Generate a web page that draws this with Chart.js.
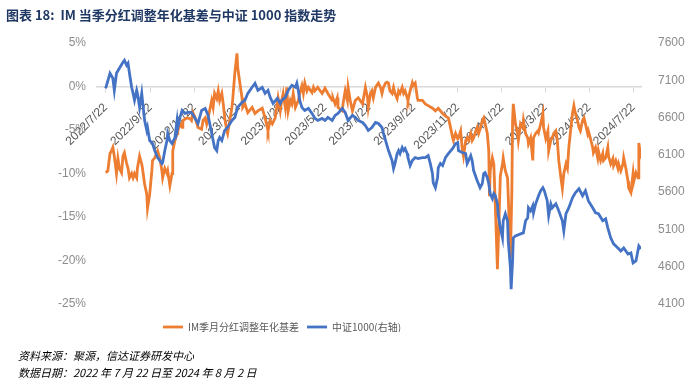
<!DOCTYPE html>
<html>
<head>
<meta charset="utf-8">
<script src="https://cdn.jsdelivr.net/npm/chart.js@4.4.1/dist/chart.umd.min.js"></script>
<style>
  body { margin: 0; background: #fff; }
  #wrap { position: relative; width: 700px; height: 384px; }
  #title { position: absolute; left: 6px; top: 5px; font: bold 13px "Noto Sans CJK SC", sans-serif; color: #1f3864; white-space: pre; }
  .note { position: absolute; left: 18px; font: italic 11px "Noto Sans CJK SC", sans-serif; color: #000; white-space: pre; }
</style>
</head>
<body>
<div id="wrap">
  <canvas id="chart" width="700" height="384"></canvas>
  <div id="title">图表 18:  IM 当季分红调整年化基差与中证 1000 指数走势</div>
  <div class="note" style="top:347px">资料来源：聚源，信达证券研发中心</div>
  <div class="note" style="top:364px">数据日期：2022 年 7 月 22 日至 2024 年 8 月 2 日</div>
</div>
<script>
// x values are days counted from 2022/7/22
const tickDays = [0, 62, 123, 184, 243, 304, 365, 427, 488, 549, 609, 670, 731];
const tickLabels = ['2022/7/22','2022/9/22','2022/11/22','2023/1/22','2023/3/22','2023/5/22','2023/7/22',
  '2023/9/22','2023/11/22','2024/1/22','2024/3/22','2024/5/22','2024/7/22'];

// IM 季月分红调整年化基差 (%)
const basisDays = [0,3,6,8,10,12,15,17,19,22,24,26,29,31,33,36,38,40,43,44,47,50,51,54,57,58,61,64,65,68,72,75,78,79,82,85,86,89,92,93,96,99,100,103,106,107,113,117,119,121,124,128,133,135,138,140,142,144,147,149,151,154,156,158,161,163,165,168,169,172,175,176,179,182,183,186,189,190,193,197,203,207,211,217,221,224,225,228,231,235,239,242,244,246,249,251,253,256,258,260,263,267,269,272,274,276,279,281,286,288,290,294,300,304,308,314,315,318,321,322,328,329,332,335,336,339,342,346,350,356,360,363,364,367,369,371,374,378,381,383,385,388,390,392,394,397,399,401,404,406,408,411,413,415,418,419,422,425,426,429,432,433,439,443,447,453,457,461,467,471,475,478,481,482,485,488,489,492,494,496,499,501,503,506,508,510,513,515,517,519,522,524,526,529,531,532,533,536,538,540,543,546,547,550,551,554,557,558,561,563,564,565,568,571,572,575,578,579,582,585,586,589,592,593,596,599,600,603,606,607,610,613,614,617,619,621,624,626,628,631,633,635,638,640,642,644,647,649,651,654,656,658,661,663,665,668,669,672,675,676,679,682,683,686,689,690,693,696,697,700,703,704,707,710,711,714,717,718,721,724,725,728,731,732,735,738,739,742];
const basisVals = [-9.9,-9.7,-7.7,-7.4,-7.0,-8.0,-10.0,-8.3,-9.4,-9.9,-8.0,-7.6,-8.8,-9.4,-10.5,-10.0,-10.5,-10.0,-10.5,-9.4,-8.0,-8.9,-9.4,-11.2,-12.4,-14.0,-12.4,-9.7,-8.5,-8.2,-7.4,-8.2,-9.7,-10.5,-9.4,-10.0,-9.7,-11.4,-10.0,-7.4,-6.2,-5.4,-5.1,-4.3,-4.7,-3.9,-3.6,-3.7,-3.9,-3.0,-3.6,-4.7,-4.9,-3.9,-3.6,-4.3,-3.6,-2.8,-1.6,-2.4,-0.8,-1.4,-0.5,-1.6,-0.8,-2.0,-3.6,-5.1,-5.4,-3.9,-2.4,-1.6,1.5,3.8,2.2,0.4,-1.3,-2.4,-2.0,-3.0,-2.4,-3.1,-2.8,-2.5,-3.6,-4.7,-5.1,-3.9,-4.3,-3.6,-1.3,-2.8,-1.6,-0.8,-2.4,-0.1,-2.8,-1.6,-2.0,-0.8,-2.4,-1.6,-0.8,0.1,-0.8,0.4,-0.5,-0.1,-0.7,-0.1,-0.5,-0.1,-0.8,-0.2,-0.8,-1.6,-1.3,-2.0,-1.3,-2.4,-2.8,-2.0,-0.5,-1.6,-0.1,-1.6,-2.8,-1.6,-1.3,-2.0,-0.1,-1.3,-2.4,-0.8,-0.5,-1.3,-0.1,0.4,-0.1,-0.8,-0.1,0.4,0.5,0.4,-0.5,-0.8,-0.1,-0.8,-1.4,-0.5,-0.8,-0.1,-0.8,-0.5,-1.3,-1.6,-0.5,0.4,0.1,0.4,-1.3,-1.6,-1.6,-2.0,-2.2,-2.5,-2.8,-2.5,-3.1,-3.4,-3.6,-4.7,-5.9,-6.2,-5.4,-6.0,-5.9,-5.1,-7.0,-8.0,-6.2,-5.9,-6.2,-5.4,-6.2,-5.9,-5.1,-4.7,-5.4,-4.9,-3.9,-3.6,-4.3,-5.4,-7.4,-12.6,-9.7,-8.2,-8.9,-13.5,-21.0,-13.2,-10.3,-8.9,-8.2,-9.7,-10.5,-12.6,-19.7,-12.0,-3.9,-2.0,-4.3,-5.4,-6.2,-4.3,-4.7,-3.9,-5.4,-5.9,-6.6,-5.9,-8.5,-5.9,-5.4,-5.1,-5.3,-4.3,-3.1,-4.7,-6.0,-5.1,-7.4,-6.2,-5.9,-5.4,-5.1,-6.2,-8.5,-10.5,-11.7,-10.0,-8.9,-9.4,-7.0,-5.4,-3.1,-2.2,-3.1,-3.9,-4.7,-5.1,-3.9,-3.6,-4.3,-5.4,-5.1,-6.0,-7.0,-7.6,-7.0,-8.2,-7.4,-8.5,-7.7,-8.5,-8.2,-7.0,-8.0,-8.9,-8.3,-9.1,-8.5,-9.4,-8.9,-9.7,-8.9,-8.2,-9.4,-10.9,-11.7,-12.2,-10.0,-10.9,-9.9,-10.5,-6.5,-8.3];

// 中证1000 (右轴)
const idxDays = [0,6,10,12,15,19,24,26,29,31,33,36,38,40,43,44,47,50,51,54,57,58,61,65,68,72,78,79,82,85,86,89,92,96,99,100,103,106,110,114,119,124,128,133,138,142,147,151,154,156,158,161,165,169,175,179,183,189,193,197,203,207,211,217,221,225,228,232,238,242,244,249,253,258,263,265,267,269,272,276,281,286,290,294,300,304,308,314,318,322,328,332,336,342,346,350,356,360,364,369,374,378,383,385,388,392,397,399,401,404,406,408,411,413,415,418,419,422,425,429,433,439,443,447,450,453,454,457,460,461,464,467,471,475,481,485,488,489,494,499,501,503,506,508,510,515,519,522,524,526,529,531,533,536,538,540,543,544,547,550,551,554,557,558,561,562,564,565,568,575,579,582,585,586,589,592,593,596,600,603,606,608,612,614,617,619,624,628,633,635,638,642,647,651,656,661,665,669,675,679,683,689,693,696,700,704,710,714,718,724,728,731,735,739,742];
const idxVals = [6992,7194,7127,6965,7194,7262,7342,7369,7302,7329,7194,7006,6925,6831,6965,6925,6737,6925,6831,6562,6427,6467,6292,6252,6158,6064,5983,5996,6158,6292,6387,6292,6252,6333,6562,6467,6602,6696,6656,6669,6669,6589,6521,6696,6723,6629,6387,6198,6158,6292,6333,6292,6427,6467,6562,6602,6737,6804,6831,6925,7006,7060,6965,7006,6925,6965,6871,6790,6858,6790,6831,6871,6965,7033,7006,7060,6965,6831,6737,6696,6723,6656,6589,6562,6589,6562,6602,6562,6629,6656,6723,6669,6562,6629,6602,6562,6535,6494,6427,6467,6535,6521,6467,6387,6292,6158,6023,5916,5983,6117,6158,6117,6198,6158,6185,6117,6064,5956,6023,6064,6050,6064,6064,6090,5983,5848,5727,5660,5794,5929,5983,5956,6064,6117,6185,6252,6265,6158,6131,6117,5983,6023,6090,6023,5889,5754,5660,5714,5848,5862,5794,5714,5579,5512,5579,5552,5444,5310,5121,4987,5216,5310,5216,4946,4583,4300,4677,4987,5014,5041,5054,5216,5256,5391,5350,5418,5323,5444,5552,5619,5660,5619,5485,5283,5444,5391,5444,5350,5216,5081,5310,5391,5525,5592,5646,5552,5619,5485,5391,5323,5310,5216,5243,5121,4987,4906,4852,4812,4852,4771,4785,4650,4677,4879,4839];

const orange = '#ED7D31';
const blue = '#4472C4';
const tickFont = { family: 'Liberation Sans, Arial, sans-serif', size: 12 };

// moves the legend left and down like in the original
const legendShift = {
  id: 'legendShift',
  afterLayout(chart) {
    chart.legend.left = 155;
    chart.legend.top += 10;
  }
};

new Chart(document.getElementById('chart'), {
  type: 'line',
  data: {
    datasets: [{
      label: 'IM季月分红调整年化基差',
      data: basisDays.map((d, i) => ({ x: d, y: basisVals[i] })),
      borderColor: orange,
      backgroundColor: orange,
      borderWidth: 2.8,
      pointRadius: 0,
      yAxisID: 'y',
      order: 1
    }, {
      label: '中证1000(右轴)',
      data: idxDays.map((d, i) => ({ x: d, y: idxVals[i] })),
      borderColor: blue,
      backgroundColor: blue,
      borderWidth: 2.8,
      pointRadius: 0,
      yAxisID: 'y1',
      order: 0
    }]
  },
  options: {
    responsive: false,
    animation: false,
    layout: { padding: { top: 43, bottom: 52, left: 0, right: 0 } },
    plugins: {
      tooltip: { enabled: false },
      legend: {
        position: 'bottom',
        align: 'start',
        labels: {
          usePointStyle: true,
          pointStyle: 'line',
          pointStyleWidth: 20,
          padding: 8,
          color: '#595959',
          font: { family: '"Liberation Sans Narrow", "Noto Sans CJK SC"', size: 10 },
          sort: (a, b) => a.datasetIndex - b.datasetIndex
        }
      }
    },
    scales: {
      x: {
        type: 'linear',
        position: { y: 0 },
        min: -12,
        max: 742,
        afterBuildTicks: (scale) => { scale.ticks = tickDays.map(v => ({ value: v })); },
        ticks: {
          autoSkip: false,
          minRotation: 45,
          maxRotation: 45,
          padding: 9,
          color: '#595959',
          font: tickFont,
          callback: (v) => tickLabels[tickDays.indexOf(v)]
        },
        grid: { display: true, drawOnChartArea: false, drawTicks: true, tickLength: 5, color: '#d9d9d9' },
        border: { display: true, color: '#d9d9d9', width: 1.5 }
      },
      y: {
        position: 'left',
        min: -25,
        max: 5,
        afterFit: (s) => { s.width = 97; },
        ticks: { stepSize: 5, padding: 3, color: '#8c8c8c', font: tickFont, callback: v => v + '%' },
        grid: { display: false },
        border: { display: false }
      },
      y1: {
        position: 'right',
        min: 4100,
        max: 7600,
        afterFit: (s) => { s.width = 59; },
        ticks: { stepSize: 500, padding: 9, color: '#8c8c8c', font: tickFont, callback: v => String(v) },
        grid: { display: false },
        border: { display: false }
      }
    }
  },
  plugins: [legendShift]
});
</script>
</body>
</html>
